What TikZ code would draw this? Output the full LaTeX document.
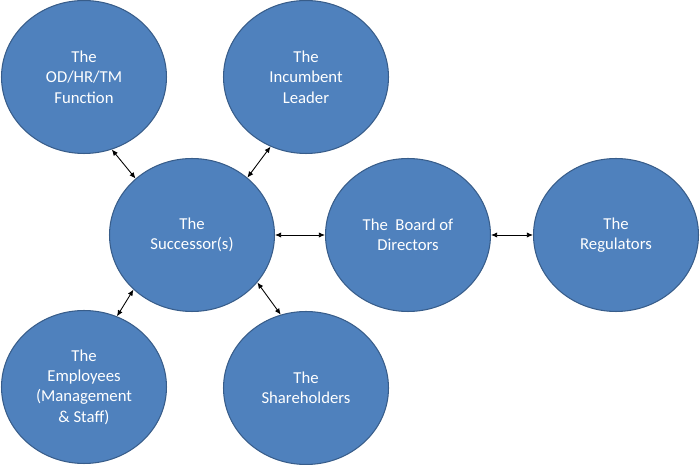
\documentclass[tikz,border=0pt]{standalone}
\usepackage{fontspec}
\setmainfont{Carlito}
\usetikzlibrary{shapes.geometric,arrows.meta}
\definecolor{actorfill}{HTML}{4F81BD}
\definecolor{actorline}{HTML}{385D8A}
\tikzset{
    actor/.style={ellipse, draw=actorline, fill=actorfill, line width=0.6pt,
        inner sep=0pt, minimum width=3.3cm, minimum height=3.06cm,
        text=white, align=center, font=\fontsize{9.5}{11.6}\selectfont},
    link/.style={{Latex[length=3.5pt,width=3pt]}-{Latex[length=3.5pt,width=3pt]}, line width=0.5pt}
}

\begin{document}
\begin{tikzpicture}[x=0.02cm, y=-0.02cm]
    \useasboundingbox (0, 0) rectangle (700, 465);
    \node[actor] at (84, 77)(hr){The\\OD/HR/TM\\Function};
    \node[actor] at (306, 77)(inc){The\\Incumbent\\Leader};
    \node[actor] at (192, 235)(succ){The\\Successor(s)};
    \node[actor] at (408, 235)(board){The\ \ Board of\\Directors};
    \node[actor] at (616, 235)(reg){The\\Regulators};
    \node[actor] at (84, 387)(emp){The\\Employees\\(Management\\\& Staff)};
    \node[actor] at (306, 388)(share){The\\Shareholders};
    
    \path[link]
        (hr.-69)edge(succ.135)
        (inc.-117)edge(succ.46)
        (succ)edge(board)
        (board)edge(reg)
        (succ.-137)edge(emp.65)
        (succ.-36)edge(share.109)
        ;
\end{tikzpicture}
\end{document}
